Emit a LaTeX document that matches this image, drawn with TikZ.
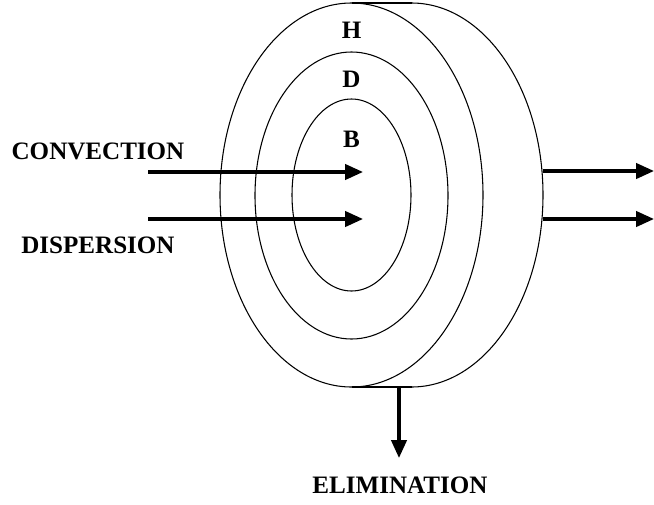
\documentclass[tikz,border=0pt]{standalone}
\usepackage{fontspec}
\setmainfont{Liberation Serif}
\usetikzlibrary{arrows.meta, positioning}

\begin{document}
\begin{tikzpicture}[x=0.75pt, y=0.75pt,
    every node/.style={inner sep=0pt, font=\fontsize{18.8}{21}\selectfont\bfseries},
    ring/.style={line width=0.8pt},
    flow/.style={line width=2.5pt, -{Triangle[length=13.5pt,width=11.5pt]}}]
    \useasboundingbox (0,0) rectangle (654,-504);

    % Disco (faccia posteriore)
    \draw[ring] (411.5,-3) arc[start angle=90, end angle=-90, x radius=131.5, y radius=192];
    \draw[ring] (351.5,-3) -- (411.5,-3);
    \draw[ring] (351.5,-387) -- (411.5,-387);

    % Anelli
    \draw[ring] (351.5,-195) ellipse[x radius=131.5, y radius=192];
    \draw[ring] (351.5,-195.5) ellipse[x radius=96.5, y radius=143.5];
    \draw[ring] (351.5,-195) ellipse[x radius=59.5, y radius=96];

    \node (H) at (351.5,-30.5) {H};
    \node (D) at (351.5,-79) {D};
    \node (B) at (351.5,-139) {B};

    % Ingressi
    \node (conv) at (98,-151) {CONVECTION};
    \node (disp) at (98,-245) {DISPERSION};
    \coordinate (convIn) at (148,-172);
    \coordinate (convEnd) at (363,-172);
    \coordinate (dispIn) at (148,-219);
    \coordinate (dispEnd) at (363,-219);
    \draw[flow] (convIn) -- (convEnd);
    \draw[flow] (dispIn) -- (dispEnd);

    % Uscite
    \coordinate (outA) at (543,-171);
    \coordinate (outAEnd) at (654,-171);
    \coordinate (outB) at (543,-219);
    \coordinate (outBEnd) at (654,-219);
    \draw[flow] (outA) -- (outAEnd);
    \draw[flow] (outB) -- (outBEnd);

    % Eliminazione
    \node (elim) at (400,-485) {ELIMINATION};
    \coordinate (elimIn) at (399,-387);
    \coordinate (elimEnd) at (399,-458);
    \draw[flow] (elimIn) -- (elimEnd);
\end{tikzpicture}
\end{document}
